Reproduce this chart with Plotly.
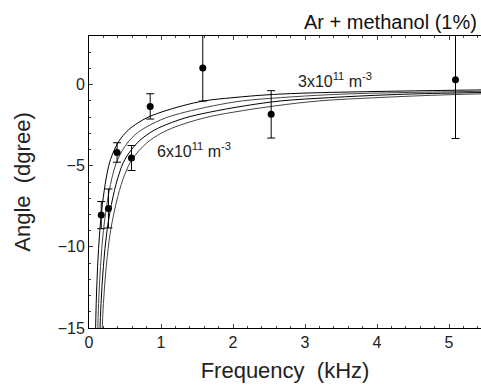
import plotly.graph_objects as go

# Measured data (frequency kHz, angle degree, error)
freq = [0.17, 0.27, 0.39, 0.59, 0.85, 1.58, 2.53, 5.09]
angle = [-8.04, -7.63, -4.18, -4.52, -1.34, 1.02, -1.83, 0.31]
err = [0.84, 1.2, 0.6, 0.77, 0.78, 2.03, 1.46, 3.63]

# Model curves (3,4,5,6 x10^11 m^-3)
curve_y = [-15.5, -13.5, -11.2, -9.0, -6.9, -5.5, -4.6, -3.6, -3.0, -2.6,
           -2.05, -1.7, -1.3, -1.0, -0.8, -0.62, -0.52, -0.42, -0.35, -0.32]
c1_x = [0.09, 0.1, 0.12, 0.15, 0.2, 0.25, 0.3, 0.4, 0.5, 0.6,
        0.8, 1.0, 1.3, 1.6, 2.0, 2.5, 3.0, 4.0, 5.0, 5.5]
c2_x = [0.12, 0.133, 0.16, 0.2, 0.266, 0.333, 0.4, 0.532, 0.665, 0.8,
        1.064, 1.33, 1.73, 2.13, 2.66, 3.33, 3.99, 5.32, 6.65, 7.3]
c3_x = [0.15, 0.167, 0.2, 0.25, 0.334, 0.418, 0.5, 0.668, 0.835, 1.0,
        1.336, 1.67, 2.17, 2.67, 3.34, 4.18, 5.0, 6.68, 8.35, 9.2]
c4_x = [0.18, 0.2, 0.24, 0.3, 0.4, 0.5, 0.6, 0.8, 1.0, 1.2,
        1.6, 2.0, 2.6, 3.2, 4.0, 5.0, 6.0, 8.0, 10.0, 11.0]

x_ticks = [0, 1, 2, 3, 4, 5]
y_ticks = [0, -5, -10, -15]

FONT = "Liberation Sans, Arial, sans-serif"

fig = go.Figure()
for cx, col in [(c1_x, "#000000"), (c2_x, "#444444"), (c3_x, "#000000"), (c4_x, "#444444")]:
    fig.add_trace(go.Scatter(x=cx, y=curve_y, mode="lines",
                             line=dict(color=col, width=1, shape="spline"),
                             showlegend=False, hoverinfo="skip"))

fig.add_trace(go.Scatter(x=freq, y=angle, mode="markers",
                         marker=dict(color="black", size=7),
                         error_y=dict(type="data", array=err, visible=True,
                                      color="black", thickness=1, width=4),
                         showlegend=False))

fig.add_annotation(x=2.88, y=0.3, xref="x", yref="y", xanchor="left", yanchor="middle",
                   text="3x10<sup>11</sup> m<sup>-3</sup>", showarrow=False,
                   font=dict(family=FONT, size=16, color="#222"))
fig.add_annotation(x=0.92, y=-4.0, xref="x", yref="y", xanchor="left", yanchor="middle",
                   text="6x10<sup>11</sup> m<sup>-3</sup>", showarrow=False,
                   font=dict(family=FONT, size=16, color="#222"))
fig.add_annotation(x=1, y=1, xref="paper", yref="paper", xanchor="right", yanchor="bottom",
                   xshift=-2, yshift=1, text="Ar + methanol (1%)", showarrow=False,
                   font=dict(family=FONT, size=20, color="#111"))

fig.update_layout(
    width=481, height=392,
    margin=dict(l=89, r=0, t=36, b=64),
    paper_bgcolor="white", plot_bgcolor="white",
    font=dict(family=FONT, size=16, color="#222"),
    xaxis=dict(range=[0, 5.444], tickvals=x_ticks, ticks="inside", ticklen=4,
               showline=True, linecolor="black", linewidth=1, mirror="ticks",
               showgrid=False, zeroline=False,
               minor=dict(dtick=0.2, tick0=0, ticks="inside", ticklen=2, showgrid=False),
               title=dict(text="Frequency  (kHz)", font=dict(size=22), standoff=12),
               tickfont=dict(size=16)),
    yaxis=dict(range=[-15, 3], tickvals=y_ticks, ticks="inside", ticklen=4,
               showline=True, linecolor="black", linewidth=1, mirror=False,
               showgrid=False, zeroline=False,
               minor=dict(dtick=1, tick0=0, ticks="inside", ticklen=2, showgrid=False),
               title=dict(text="Angle  (dgree)", font=dict(size=22), standoff=20),
               tickfont=dict(size=16)),
)

fig.write_html("out.html")
